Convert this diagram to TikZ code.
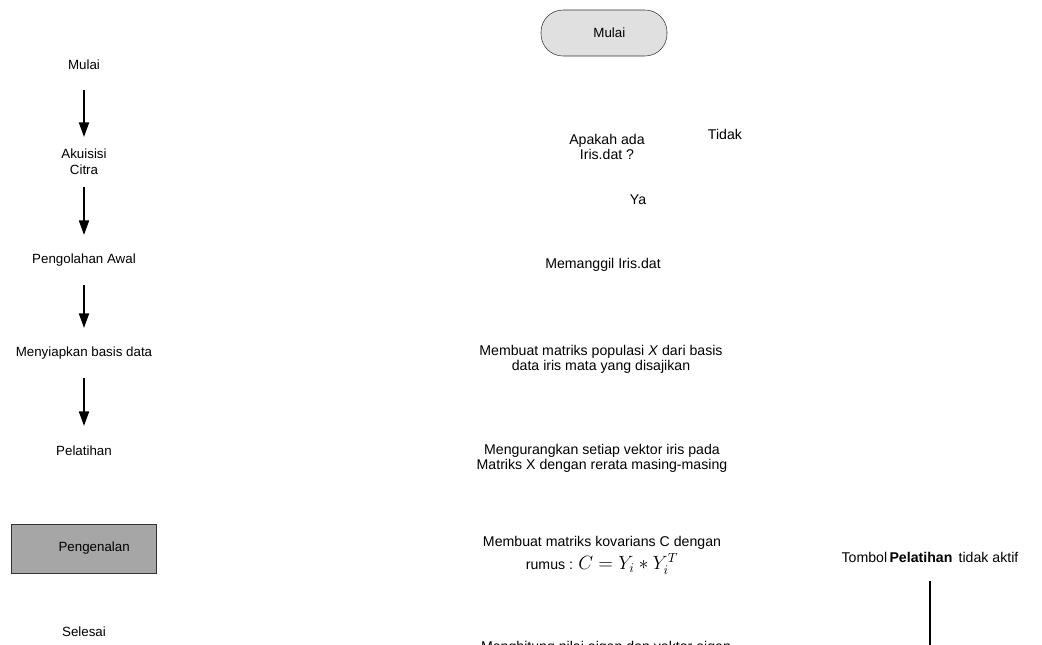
\documentclass[tikz,border=0pt]{standalone}
\usepackage{fontspec}
\setmainfont{Liberation Sans}
\usepackage{tikz}
\usetikzlibrary{arrows.meta,positioning}
\definecolor{pillgray}{HTML}{E0E0E0}
\definecolor{boxgray}{HTML}{A6A6A6}
\definecolor{linegray}{HTML}{333333}

\begin{document}
\begin{tikzpicture}[
  x=0.75pt,y=-0.75pt,
  font=\fontsize{10}{12}\selectfont,
  txt/.style={align=center,inner sep=1pt},
  wide/.style={txt,font=\fontsize{10.6}{11.4}\selectfont},
  terminal/.style={draw=linegray,fill=pillgray,rounded corners=16.5pt,
    minimum width=94.5pt,minimum height=34.5pt,inner sep=0pt},
  process/.style={draw=linegray,fill=boxgray,minimum width=108.75pt,
    minimum height=36.75pt,inner sep=0pt},
  flow/.style={-{Triangle[length=11pt,width=7.5pt]},line width=1.5pt,
    shorten <=18.75pt,shorten >=18.75pt},
  wire/.style={line width=1.5pt,shorten <=18pt}
]
\useasboundingbox (0,0) rectangle (1042,644);
% left column
\node[txt] (mulaiL) at (84,65) {Mulai};
\node[txt] (akuisisi) at (84,162) {Akuisisi\\Citra};
\node[txt] (awal) at (84,260) {Pengolahan Awal};
\node[txt] (basis) at (84,353) {Menyiapkan basis data};
\node[txt] (latih) at (84,451) {Pelatihan};
\node[process] (kenal) at (83.5,548.5) {\hspace*{16pt}Pengenalan};
\node[txt] (selesai) at (84,632) {Selesai};
\draw[flow] (mulaiL.center) -- (akuisisi.center);
\draw[flow] (akuisisi.center) -- (awal.center);
\draw[flow] (awal.center) -- (basis.center);
\draw[flow] (basis.center) -- (latih.center);
% right column
\node[terminal] (mulaiR) at (604,33) {\hspace*{8pt}Mulai};
\node[wide] (cek) at (607,147) {Apakah ada\\Iris.dat ?};
\node[wide] (tidak) at (725,134) {Tidak};
\node[wide] (ya) at (638,200) {Ya};
\node[wide] (panggil) at (603,265) {Memanggil Iris.dat};
\node[wide] (populasi) at (601,359) {Membuat matriks populasi \textit{X} dari basis\\data iris mata yang disajikan};
\node[wide] (kurang) at (602,458) {Mengurangkan setiap vektor iris pada\\Matriks X dengan rerata masing-masing};
\node[wide] (kovarians) at (602,555) {Membuat matriks kovarians C dengan\\[2pt]rumus : {\fontsize{14}{14}\selectfont$C = Y_i * Y_i^{T}$}};
\node[wide,anchor=base,inner sep=0pt] (eigen) at (606,651) {Menghitung nilai eigen dan vektor eigen};
\node[wide] (tombol) at (930,557) {Tombol\,\textbf{Pelatihan}\, tidak aktif};
\coordinate (ujung) at (930,660);
\draw[wire] (tombol.center -| ujung) -- (ujung);
\end{tikzpicture}
\end{document}
